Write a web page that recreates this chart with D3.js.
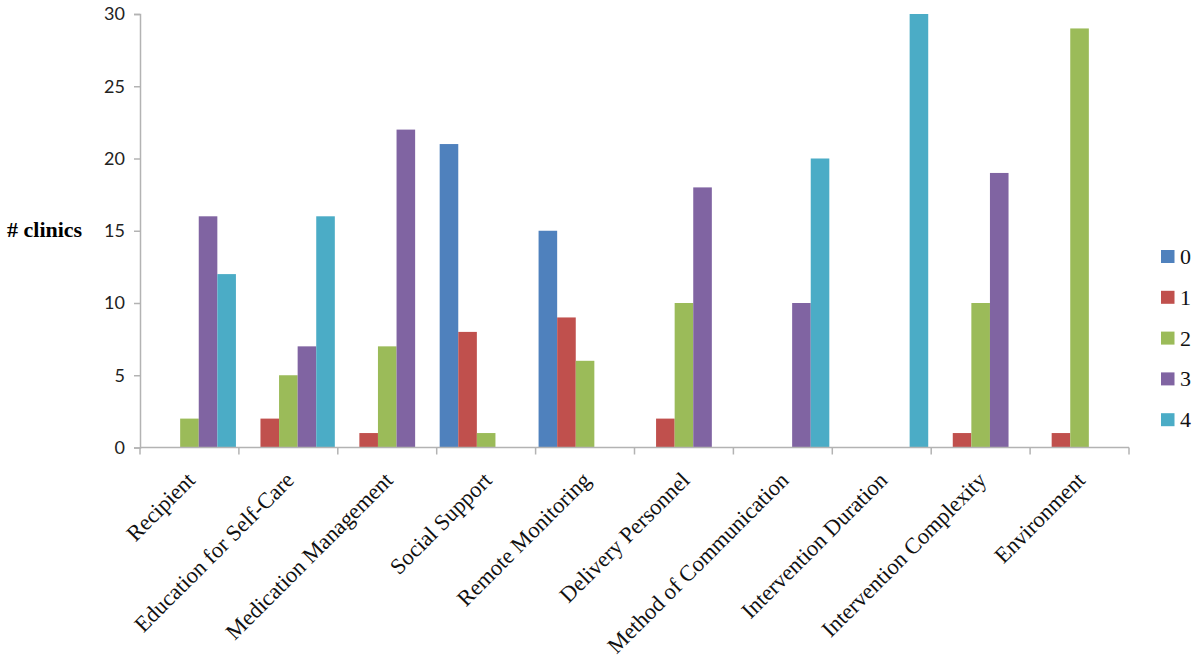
<!DOCTYPE html>
<html><head><meta charset="utf-8">
<script src="https://cdn.jsdelivr.net/npm/d3@7"></script>
<style>body{margin:0;background:#fff}</style>
</head><body>
<svg id="chart" width="1200" height="664"></svg>
<script>
const categories = ["Recipient","Education for Self-Care","Medication Management","Social Support","Remote Monitoring","Delivery Personnel","Method of Communication","Intervention Duration","Intervention Complexity","Environment"];
const seriesNames = ["0","1","2","3","4"];
const s0 = [0,0,0,21,15,0,0,0,0,0];
const s1 = [0,2,1,8,9,2,0,0,1,1];
const s2 = [2,5,7,1,6,10,0,0,10,29];
const s3 = [16,7,22,0,0,18,10,0,19,0];
const s4 = [12,16,0,0,0,0,20,30,0,0];
const yTicks = [0,5,10,15,20,25,30];
const colors = ["#4F81BD","#C0504D","#9BBB59","#8064A2","#4BACC6"];
const series = [s0,s1,s2,s3,s4];

const svg = d3.select("#chart");
const mLeft = 140, mRight = 1129, mTop = 14, mBottom = 447.5;
const x = d3.scaleBand().domain(categories).range([mLeft, mRight]).paddingInner(0).paddingOuter(0);
const x1 = d3.scaleBand().domain(seriesNames).range([0, x.bandwidth()]).paddingInner(0).paddingOuter(0.16);
const y = d3.scaleLinear().domain([0,30]).range([mBottom, mTop]);

// bars
series.forEach((vals, si) => {
  svg.append("g").selectAll("rect").data(vals).join("rect")
    .attr("x", (d,i) => x(categories[i]) + x1(seriesNames[si]))
    .attr("width", x1.bandwidth())
    .attr("y", d => y(d))
    .attr("height", d => y(0) - y(d))
    .attr("fill", colors[si]);
});

// y axis
const yAxis = d3.axisLeft(y).tickValues(yTicks).tickSize(6).tickPadding(9);
const gy = svg.append("g").attr("transform", `translate(${mLeft},0)`).call(yAxis);
gy.select(".domain").attr("stroke", "#b3b3b3").attr("stroke-width", 1.5);
gy.selectAll(".tick line").attr("stroke", "#b3b3b3").attr("stroke-width", 1.5);
gy.selectAll(".tick text").attr("font-family", "Lato, 'Open Sans', sans-serif").attr("font-size", 18).attr("fill", "#222");

// x axis
const boundaries = categories.map(c => x(c)).concat([mRight]);
const gx = svg.append("g");
gx.append("line").attr("x1", mLeft).attr("x2", mRight).attr("y1", y(0)).attr("y2", y(0)).attr("stroke", "#b3b3b3").attr("stroke-width", 1.5);
gx.selectAll("line.tk").data(boundaries).join("line").attr("class","tk")
  .attr("x1", d => d).attr("x2", d => d).attr("y1", y(0)).attr("y2", y(0)+7)
  .attr("stroke", "#b3b3b3").attr("stroke-width", 1.5);
gx.selectAll("text").data(categories).join("text")
  .attr("transform", d => `translate(${x(d) + x.bandwidth()/2 + 7},${y(0)+34}) rotate(-45)`)
  .attr("text-anchor", "end")
  .attr("font-family", "'Liberation Serif', 'Times New Roman', serif")
  .attr("font-size", 22.5)
  .attr("fill", "#111")
  .text(d => d);

// y title
svg.append("text").attr("x", 7).attr("y", 237)
  .attr("font-family", "'Liberation Serif', 'Times New Roman', serif")
  .attr("font-weight", "bold").attr("font-size", 22).attr("fill", "#000")
  .text("# clinics");

// legend
const lg = svg.append("g").selectAll("g").data(seriesNames).join("g")
  .attr("transform", (d,i) => `translate(1161,${256.5 + i*40.8})`);
lg.append("rect").attr("x", 0).attr("y", -6.5).attr("width", 13.5).attr("height", 13).attr("fill", (d,i) => colors[i]);
lg.append("text").attr("x", 19).attr("y", 7.5)
  .attr("font-family", "'Liberation Serif', 'Times New Roman', serif")
  .attr("font-size", 22).attr("fill", "#111").text(d => d);
</script>
</body></html>
